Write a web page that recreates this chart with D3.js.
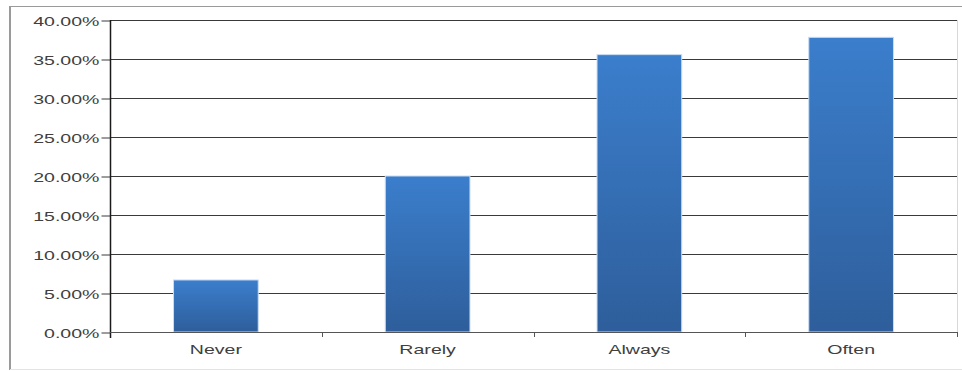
<!DOCTYPE html>
<html>
<head>
<meta charset="utf-8">
<script src="https://cdn.jsdelivr.net/npm/d3@7"></script>
<style>
  html, body { margin: 0; padding: 0; background: #fff; }
  svg { display: block; }
</style>
</head>
<body>
<svg id="chart" width="962" height="371"></svg>
<script>
// Responses per frequency category (share of respondents)
const categories = ["Never", "Rarely", "Always", "Often"];
const shares = [0.0667, 0.20, 0.3556, 0.3778];
const yTickValues = [0, 0.05, 0.10, 0.15, 0.20, 0.25, 0.30, 0.35, 0.40];

const svg = d3.select("#chart");
const plot = { left: 110, right: 957, top: 20, bottom: 332 };
const FONT = "'Liberation Sans', Arial, sans-serif";
const STRETCH = 1.63;   // labels are drawn horizontally widened

// outer frame
svg.append("line").attr("x1", 10).attr("x2", 10).attr("y1", 6).attr("y2", 370)
  .attr("stroke", "#9a9a9a").attr("stroke-width", 2);
svg.append("line").attr("x1", 10).attr("x2", 962).attr("y1", 6.5).attr("y2", 6.5)
  .attr("stroke", "#9a9a9a").attr("stroke-width", 1);
svg.append("line").attr("x1", 10).attr("x2", 962).attr("y1", 369.5).attr("y2", 369.5)
  .attr("stroke", "#e4e4e4").attr("stroke-width", 1);

const x = d3.scaleBand().domain(categories)
  .range([plot.left, plot.right]).paddingInner(0.6).paddingOuter(0.3);
const y = d3.scaleLinear().domain([0, 0.40]).range([plot.bottom, plot.top]);

// plot area right edge
svg.append("line").attr("x1", plot.right + 0.5).attr("x2", plot.right + 0.5)
  .attr("y1", plot.top).attr("y2", plot.bottom)
  .attr("stroke", "#d8d8d8");

// horizontal gridlines
svg.append("g").selectAll("line").data(yTickValues.filter(d => d > 0)).join("line")
  .attr("x1", plot.left).attr("x2", plot.right)
  .attr("y1", d => Math.round(y(d)) + 0.5).attr("y2", d => Math.round(y(d)) + 0.5)
  .attr("stroke", "#3a3a3a").attr("stroke-width", 1);

// bar gradient
const defs = svg.append("defs");
const grad = defs.append("linearGradient").attr("id", "barFill")
  .attr("x1", 0).attr("y1", 0).attr("x2", 0).attr("y2", 1);
grad.append("stop").attr("offset", "0%").attr("stop-color", "#3b7ecc");
grad.append("stop").attr("offset", "100%").attr("stop-color", "#2e5e9b");

// bars
svg.append("g").selectAll("rect").data(categories).join("rect")
  .attr("x", d => x(d))
  .attr("y", (d, i) => y(shares[i]))
  .attr("width", x.bandwidth())
  .attr("height", (d, i) => plot.bottom - y(shares[i]))
  .attr("fill", "url(#barFill)")
  .attr("stroke", "#c9dcf2").attr("stroke-width", 1);

// y axis
const yAxis = d3.axisLeft(y).tickValues(yTickValues)
  .tickFormat(d3.format(".2%")).tickSize(9).tickPadding(2);
const gy = svg.append("g").attr("transform", `translate(${plot.left + 0.5},0.5)`).call(yAxis);
gy.select(".domain").remove();
gy.selectAll(".tick line").attr("stroke", "#3a3a3a");
gy.selectAll(".tick text")
  .attr("font-family", FONT)
  .attr("font-size", 12).attr("fill", "#404040")
  .attr("x", -11 / STRETCH).attr("y", 5).attr("dy", null)
  .attr("transform", `scale(${STRETCH},1)`);
svg.append("line").attr("x1", plot.left + 0.5).attr("x2", plot.left + 0.5)
  .attr("y1", plot.top).attr("y2", plot.bottom + 6)
  .attr("stroke", "#1a1a1a").attr("stroke-width", 1.5);

// x axis
svg.append("line").attr("x1", plot.left).attr("x2", plot.right)
  .attr("y1", plot.bottom + 0.5).attr("y2", plot.bottom + 0.5)
  .attr("stroke", "#555").attr("stroke-width", 1);
const bounds = categories.map(c => x(c) - x.step() * x.paddingInner() / 2).concat([plot.right]);
svg.append("g").selectAll("line").data(bounds.slice(1)).join("line")
  .attr("x1", d => Math.round(d) + 0.5).attr("x2", d => Math.round(d) + 0.5)
  .attr("y1", plot.bottom).attr("y2", plot.bottom + 5)
  .attr("stroke", "#555");
svg.append("g").selectAll("text").data(categories).join("text")
  .attr("transform", d => `translate(${x(d) + x.bandwidth() / 2},${plot.bottom + 22}) scale(${STRETCH},1)`)
  .attr("text-anchor", "middle")
  .attr("font-family", FONT)
  .attr("font-size", 12).attr("fill", "#404040")
  .text(d => d);
</script>
</body>
</html>
